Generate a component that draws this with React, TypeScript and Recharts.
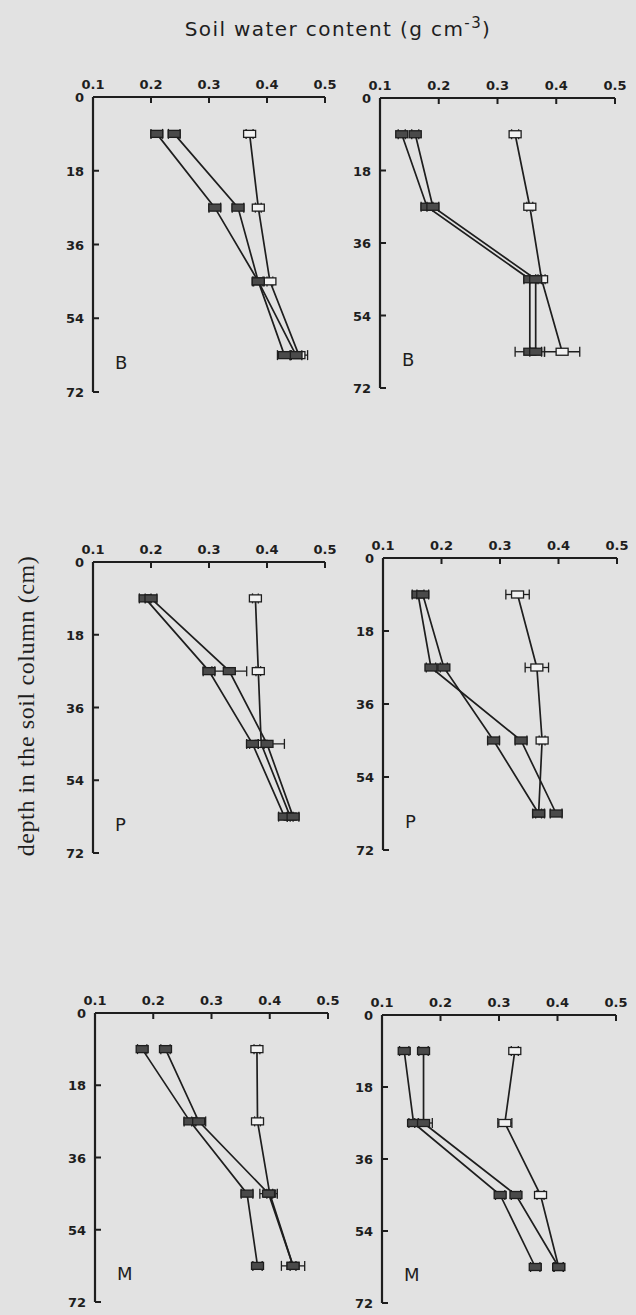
import React from "react";
import { LineChart, Line, XAxis, YAxis, ErrorBar } from "recharts";

// ---- data ----
const depths = [9, 27, 45, 63];
const xTicks = [0.1, 0.2, 0.3, 0.4, 0.5];
const yTicks = [0, 18, 36, 54, 72];
const panelLetters = ["B", "B", "P", "P", "M", "M"];

// Panel 1 (B, left)
const p1A = [0.21, 0.31, 0.385, 0.45];
const p1B = [0.24, 0.35, 0.385, 0.43];
const p1C = [0.37, 0.385, 0.405, 0.455];
const p1AErr = [0.01, 0.01, 0.01, 0.01];
const p1BErr = [0.01, 0.01, 0.008, 0.012];
const p1CErr = [0.006, 0.005, 0.005, 0.015];

// Panel 2 (B, right)
const p2A = [0.137, 0.18, 0.355, 0.355];
const p2B = [0.16, 0.19, 0.365, 0.365];
const p2C = [0.33, 0.355, 0.375, 0.41];
const p2AErr = [0.006, 0.01, 0.01, 0.025];
const p2BErr = [0.006, 0.01, 0.01, 0.01];
const p2CErr = [0.006, 0.005, 0.006, 0.03];

// Panel 3 (P, left)
const p3A = [0.19, 0.3, 0.375, 0.43];
const p3B = [0.2, 0.335, 0.4, 0.445];
const p3C = [0.38, 0.385, 0.39, 0.44];
const p3AErr = [0.01, 0.01, 0.01, 0.01];
const p3BErr = [0.01, 0.03, 0.03, 0.01];
const p3CErr = [0.005, 0.004, 0.005, 0.005];

// Panel 4 (P, right)
const p4A = [0.16, 0.182, 0.336, 0.396];
const p4B = [0.168, 0.204, 0.289, 0.366];
const p4C = [0.33, 0.363, 0.372, 0.366];
const p4AErr = [0.01, 0.008, 0.01, 0.01];
const p4BErr = [0.01, 0.006, 0.01, 0.01];
const p4CErr = [0.02, 0.02, 0.005, 0.005];

// Panel 5 (M, left)
const p5A = [0.181, 0.263, 0.361, 0.379];
const p5B = [0.221, 0.278, 0.398, 0.44];
const p5C = [0.378, 0.379, 0.4, 0.44];
const p5AErr = [0.008, 0.01, 0.01, 0.008];
const p5BErr = [0.008, 0.012, 0.015, 0.02];
const p5CErr = [0.005, 0.005, 0.005, 0.005];

// Panel 6 (M, right)
const p6A = [0.138, 0.154, 0.302, 0.362];
const p6B = [0.171, 0.171, 0.329, 0.402];
const p6C = [0.327, 0.31, 0.371, 0.402];
const p6AErr = [0.008, 0.008, 0.008, 0.008];
const p6BErr = [0.008, 0.015, 0.008, 0.008];
const p6CErr = [0.006, 0.012, 0.006, 0.008];

const seriesSets = [
  [p1A, p1B, p1C, p1AErr, p1BErr, p1CErr],
  [p2A, p2B, p2C, p2AErr, p2BErr, p2CErr],
  [p3A, p3B, p3C, p3AErr, p3BErr, p3CErr],
  [p4A, p4B, p4C, p4AErr, p4BErr, p4CErr],
  [p5A, p5B, p5C, p5AErr, p5BErr, p5CErr],
  [p6A, p6B, p6C, p6AErr, p6BErr, p6CErr],
];

// ---- layout (plot area rectangles in page px) ----
const layout = [
  { left: 93, right: 325, top: 97, bottom: 392 },
  { left: 380, right: 615, top: 98, bottom: 388 },
  { left: 93, right: 325, top: 562, bottom: 853 },
  { left: 383, right: 617, top: 558, bottom: 850 },
  { left: 95, right: 328, top: 1013, bottom: 1302 },
  { left: 382, right: 616, top: 1015, bottom: 1303 },
];

const BG = "#e2e2e2";
const INK = "#1e1e1e";
const AX_H = 30;
const AX_W = 40;
const TICK_FONT = "'DejaVu Sans', sans-serif";

const XTick = (props: any) => {
  const { x, payload } = props;
  const v = payload.value;
  return (
    <g>
      <text
        x={x}
        y={AX_H - 8}
        textAnchor="middle"
        fontFamily={TICK_FONT}
        fontWeight="bold"
        fontSize={13}
        fill={INK}
      >
        {v.toFixed(1)}
      </text>
      {v > 0.15 ? (
        <line x1={x} x2={x} y1={AX_H} y2={AX_H + 6} stroke={INK} strokeWidth={2} />
      ) : null}
    </g>
  );
};

const YTick = (props: any) => {
  const { y, payload } = props;
  const v = payload.value;
  return (
    <g>
      <text
        x={AX_W - 9}
        y={y + 5}
        textAnchor="end"
        fontFamily={TICK_FONT}
        fontWeight="bold"
        fontSize={13}
        fill={INK}
      >
        {v}
      </text>
      {v > 0 ? (
        <line x1={AX_W} x2={AX_W + 6} y1={y} y2={y} stroke={INK} strokeWidth={2} />
      ) : null}
    </g>
  );
};

const makeDot = (fill: string) => (props: any) => {
  const { cx, cy, index } = props;
  if (cx == null || cy == null) return <g key={index} />;
  return (
    <rect
      key={index}
      x={cx - 6}
      y={cy - 3.5}
      width={12}
      height={7}
      fill={fill}
      stroke={INK}
      strokeWidth={1.3}
    />
  );
};

const filledDot = makeDot("#4a4a4a");
const openDot = makeDot("#f2f2f2");

function Panel({ idx }: { idx: number }) {
  const L = layout[idx];
  const [A, B, C, AE, BE, CE] = seriesSets[idx];
  const rows = depths.map((d, i) => ({
    depth: d,
    a: A[i],
    b: B[i],
    c: C[i],
    aErr: AE[i],
    bErr: BE[i],
    cErr: CE[i],
  }));
  const w = L.right - L.left;
  const h = L.bottom - L.top;
  const mr = 20;
  const mb = 12;
  const lineProps = {
    type: "linear" as const,
    stroke: INK,
    strokeWidth: 1.7,
    isAnimationActive: false,
  };
  return (
    <div
      style={{
        position: "absolute",
        left: L.left - AX_W,
        top: L.top - AX_H,
        width: AX_W + w + mr,
        height: AX_H + h + mb,
      }}
    >
      <LineChart
        width={AX_W + w + mr}
        height={AX_H + h + mb}
        data={rows}
        layout="vertical"
        margin={{ top: 0, right: mr, bottom: mb, left: 0 }}
      >
        <XAxis
          type="number"
          orientation="top"
          domain={[0.1, 0.5]}
          ticks={xTicks}
          allowDataOverflow
          height={AX_H}
          tickSize={0}
          tickMargin={6}
          tick={<XTick />}
          axisLine={{ stroke: INK, strokeWidth: 2.2 }}
          tickLine={false}
        />
        <YAxis
          type="number"
          dataKey="depth"
          domain={[0, 72]}
          ticks={yTicks}
          allowDataOverflow
          width={AX_W}
          tickSize={0}
          tickMargin={8}
          tick={<YTick />}
          axisLine={{ stroke: INK, strokeWidth: 2.2 }}
          tickLine={false}
        />
        <Line dataKey="c" {...lineProps} dot={openDot}>
          <ErrorBar dataKey="cErr" direction="x" width={5} stroke={INK} strokeWidth={1.3} />
        </Line>
        <Line dataKey="a" {...lineProps} dot={filledDot}>
          <ErrorBar dataKey="aErr" direction="x" width={5} stroke={INK} strokeWidth={1.3} />
        </Line>
        <Line dataKey="b" {...lineProps} dot={filledDot}>
          <ErrorBar dataKey="bErr" direction="x" width={5} stroke={INK} strokeWidth={1.3} />
        </Line>
      </LineChart>
    </div>
  );
}

export default function App() {
  return (
    <div
      style={{
        position: "absolute",
        left: 0,
        top: 0,
        width: 636,
        height: 1315,
        background: BG,
        overflow: "hidden",
      }}
    >
      {layout.map((_, i) => (
        <Panel key={i} idx={i} />
      ))}
      <svg
        width={636}
        height={1315}
        style={{ position: "absolute", left: 0, top: 0, pointerEvents: "none" }}
      >
        <text
          x={338}
          y={36}
          textAnchor="middle"
          fontFamily="'DejaVu Sans', sans-serif"
          fontSize={20}
          letterSpacing={1.4}
          fill={INK}
        >
          Soil water content (g cm
          <tspan dy={-8} fontSize={15}>-3</tspan>
          <tspan dy={8}>)</tspan>
        </text>
        <text
          x={0}
          y={0}
          transform="translate(34 706) rotate(-90)"
          textAnchor="middle"
          fontFamily="'Liberation Serif', serif"
          fontSize={24}
          letterSpacing={0.6}
          fill={INK}
        >
          depth in the soil column (cm)
        </text>
        {layout.map((L, i) => {
          const h = L.bottom - L.top;
          return (
            <text
              key={i}
              x={L.left + 22}
              y={L.top + (66 / 72) * h + 2}
              fontFamily="'DejaVu Sans', sans-serif"
              fontSize={18}
              fill={INK}
            >
              {panelLetters[i]}
            </text>
          );
        })}
      </svg>
    </div>
  );
}
